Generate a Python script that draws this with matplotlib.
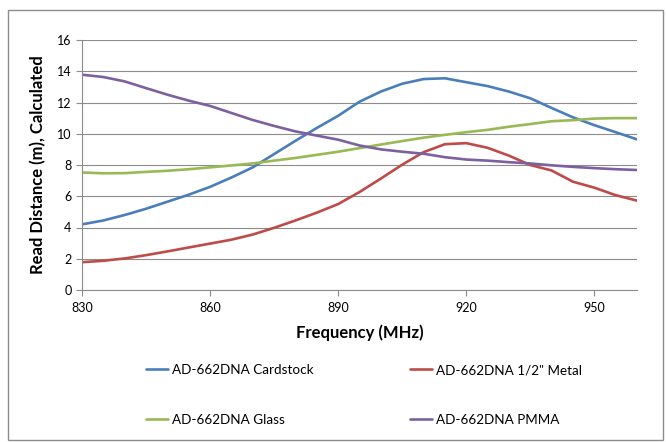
import numpy as np
import matplotlib.pyplot as plt
from matplotlib.patches import Rectangle

plt.rcParams['font.family'] = ['Lato', 'DejaVu Sans']

freq = np.arange(830, 961, 5)

cardstock = [4.2, 4.45, 4.8, 5.2, 5.65, 6.1, 6.6, 7.2, 7.85, 8.7, 9.55, 10.37, 11.15,
             12.05, 12.7, 13.2, 13.5, 13.55, 13.3, 13.05, 12.7, 12.27, 11.65, 11.05,
             10.55, 10.1, 9.64]
metal = [1.78, 1.87, 2.02, 2.23, 2.47, 2.72, 2.97, 3.22, 3.55, 3.98, 4.45, 4.95, 5.5,
         6.27, 7.13, 8.02, 8.82, 9.33, 9.4, 9.1, 8.6, 8.0, 7.65, 6.93, 6.55, 6.07, 5.72]
glass = [7.52, 7.47, 7.48, 7.56, 7.63, 7.73, 7.85, 7.97, 8.1, 8.28, 8.45, 8.65, 8.85,
         9.08, 9.31, 9.53, 9.75, 9.93, 10.1, 10.25, 10.45, 10.62, 10.8, 10.87, 10.97,
         11.0, 11.0]
pmma = [13.78, 13.63, 13.35, 12.92, 12.5, 12.12, 11.78, 11.33, 10.88, 10.5, 10.15,
        9.88, 9.62, 9.25, 9.0, 8.85, 8.72, 8.5, 8.35, 8.28, 8.18, 8.1, 7.98, 7.88, 7.8,
        7.73, 7.68]

labels = ['AD-662DNA Cardstock', 'AD-662DNA 1/2" Metal', 'AD-662DNA Glass', 'AD-662DNA PMMA']
colors = ['#4A7EBB', '#BE4B48', '#98B954', '#7D60A0']

fig = plt.figure(figsize=(6.66, 4.42), dpi=100)
ax = fig.add_axes([82 / 666, 1 - 290 / 442, (637 - 82) / 666, 250 / 442])

lines = []
for ys, lab, c in zip([cardstock, metal, glass, pmma], labels, colors):
    ln, = ax.plot(freq, ys, color=c, linewidth=1.9, label=lab,
                  solid_capstyle='round', solid_joinstyle='round')
    lines.append(ln)

ax.set_xlim(830, 960)
ax.set_ylim(0, 16)
ax.set_xticks([830, 860, 890, 920, 950])
ax.set_yticks(range(0, 17, 2))
ax.yaxis.grid(True, color='#8c8c8c', linewidth=0.8)
ax.set_axisbelow(True)
for s in ['top', 'right']:
    ax.spines[s].set_visible(False)
for s in ['left', 'bottom']:
    ax.spines[s].set_color('#8c8c8c')
    ax.spines[s].set_linewidth(0.8)
ax.tick_params(axis='both', colors='#8c8c8c', labelcolor='black', labelsize=9,
               length=4, width=0.8)
ax.tick_params(axis='x', pad=5)

ax.set_xlabel('Frequency (MHz)', fontsize=12, fontweight='bold', labelpad=7)
ax.set_ylabel('Read Distance (m), Calculated', fontsize=12, fontweight='bold', labelpad=8)

# legend: Excel row order -> column-major reorder
order = [0, 2, 1, 3]
fig.legend([lines[i] for i in order], [labels[i] for i in order], ncol=2,
           loc='center', bbox_to_anchor=(364 / 666, 1 - 395 / 442), frameon=False,
           fontsize=9.7, handlelength=1.65, handletextpad=0.25, labelspacing=2.8,
           columnspacing=7.2)

fig.patches.append(Rectangle((8 / 666, 2 / 442), 655 / 666, 430 / 442,
                             transform=fig.transFigure, fill=False,
                             edgecolor='#8c8c8c', linewidth=1))

fig.savefig('out.png', dpi=100)
